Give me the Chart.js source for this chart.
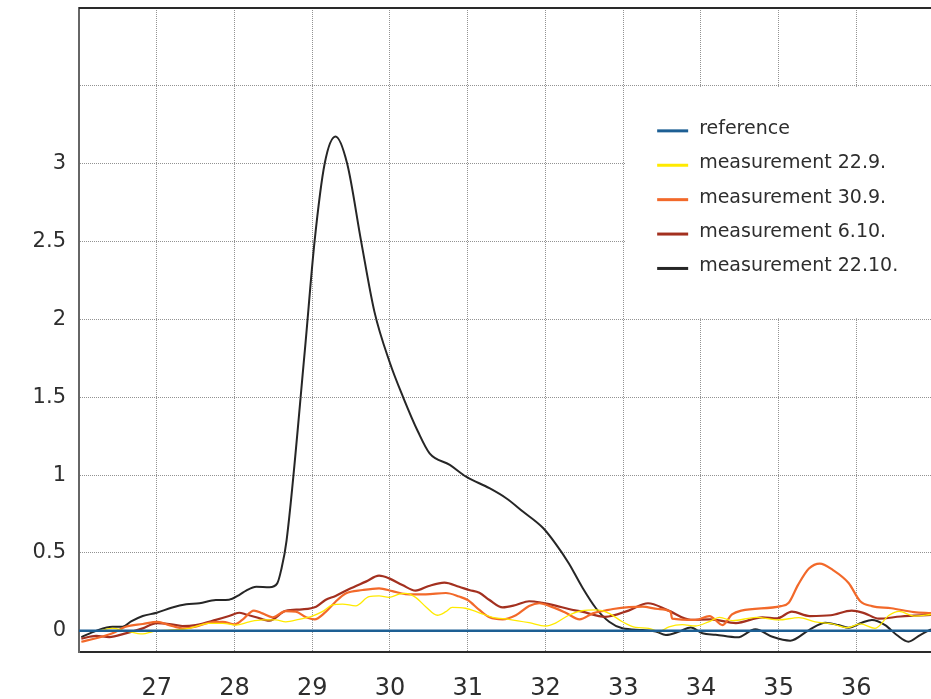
<!DOCTYPE html>
<html><head><meta charset="utf-8">
<script src="https://cdn.jsdelivr.net/npm/chart.js@4/dist/chart.umd.min.js"></script>
<style>html,body{margin:0;padding:0;background:#fff}#wrap{width:931px;height:699px;position:relative}</style>
</head><body><div id="wrap"><canvas id="c" width="931" height="699"></canvas></div>
<script>
// ---- data ----
const seriesLabels = ['reference', 'measurement 22.9.', 'measurement 30.9.', 'measurement 6.10.', 'measurement 22.10.'];
const seriesColors = ['#1d5f94', '#ffea00', '#f2692a', '#a3301f', '#262626'];

const refX = [26, 37];
const refY = [0, 0];

const m229X = [26.03,26.22,26.43,26.6,26.82,26.95,27.16,27.42,27.67,27.85,28.02,28.19,28.36,28.53,28.66,28.83,29.0,29.13,29.26,29.39,29.56,29.73,29.86,29.99,30.12,30.2,30.33,30.46,30.61,30.72,30.8,30.97,31.15,31.32,31.53,31.79,32.0,32.13,32.3,32.47,32.65,32.82,32.99,33.16,33.33,33.46,33.59,33.76,33.93,34.1,34.24,34.41,34.71,35.0,35.26,35.47,35.69,35.88,36.05,36.24,36.42,36.55,36.74,36.96];
const m229Y = [0.0,0.0,0.016,0.0,-0.02,-0.005,0.005,0.016,0.048,0.048,0.037,0.058,0.07,0.07,0.058,0.074,0.095,0.123,0.166,0.172,0.16,0.219,0.224,0.215,0.236,0.24,0.215,0.155,0.1,0.123,0.15,0.145,0.116,0.087,0.074,0.052,0.031,0.05,0.1,0.129,0.134,0.112,0.058,0.022,0.016,-0.005,0.026,0.04,0.031,0.058,0.087,0.065,0.087,0.07,0.085,0.058,0.044,0.02,0.044,0.016,0.1,0.125,0.095,0.105];

const m309X = [26.03,26.22,26.43,26.6,26.82,27.01,27.16,27.33,27.5,27.67,27.85,28.0,28.1,28.25,28.36,28.49,28.66,28.79,28.92,29.03,29.17,29.3,29.43,29.65,29.86,30.03,30.2,30.46,30.72,30.89,31.0,31.15,31.28,31.45,31.62,31.79,31.92,32.09,32.26,32.44,32.61,32.77,32.87,33.25,33.45,33.61,33.63,33.93,34.11,34.28,34.4,34.52,35.03,35.13,35.25,35.39,35.53,35.7,35.9,36.05,36.2,36.45,36.74,36.96];
const m309Y = [-0.07,-0.048,-0.016,0.026,0.044,0.058,0.037,0.016,0.026,0.052,0.058,0.042,0.07,0.13,0.112,0.087,0.127,0.123,0.087,0.074,0.12,0.187,0.24,0.262,0.273,0.255,0.236,0.234,0.243,0.22,0.198,0.134,0.087,0.074,0.1,0.159,0.177,0.152,0.116,0.074,0.112,0.13,0.14,0.155,0.14,0.123,0.078,0.07,0.095,0.037,0.105,0.13,0.159,0.18,0.295,0.4,0.432,0.39,0.307,0.19,0.159,0.145,0.12,0.114];

const m610X = [26.03,26.22,26.39,26.6,26.82,27.0,27.16,27.33,27.5,27.76,27.93,28.06,28.15,28.28,28.45,28.66,28.87,29.05,29.17,29.3,29.47,29.69,29.86,29.99,30.16,30.33,30.5,30.7,30.89,31.02,31.15,31.28,31.45,31.62,31.79,31.96,32.13,32.3,32.47,32.77,33.07,33.32,33.57,33.87,34.12,34.45,34.79,34.98,35.17,35.4,35.67,35.94,36.1,36.29,36.57,36.96];
const m610Y = [-0.05,-0.033,-0.04,-0.016,0.016,0.05,0.044,0.031,0.037,0.07,0.095,0.116,0.105,0.087,0.065,0.129,0.138,0.155,0.198,0.224,0.267,0.316,0.354,0.337,0.294,0.258,0.288,0.309,0.283,0.262,0.245,0.198,0.151,0.166,0.19,0.18,0.162,0.14,0.123,0.09,0.13,0.177,0.133,0.07,0.074,0.05,0.087,0.08,0.123,0.095,0.1,0.13,0.114,0.078,0.092,0.102];

const m2210X = [26.03,26.22,26.43,26.56,26.67,26.82,27.0,27.2,27.38,27.55,27.76,27.93,28.06,28.15,28.28,28.45,28.55,28.6,28.67,28.905,29.03,29.16,29.3,29.45,29.63,29.8,30.0,30.17,30.36,30.51,30.77,30.98,31.28,31.5,31.71,31.97,32.13,32.3,32.47,32.65,32.82,32.99,33.25,33.42,33.55,33.72,33.87,34.02,34.19,34.47,34.7,34.92,35.15,35.39,35.6,35.77,35.9,36.07,36.2,36.37,36.52,36.67,36.82,36.96];
const m2210Y = [-0.04,0.0,0.026,0.026,0.06,0.095,0.116,0.15,0.17,0.177,0.198,0.2,0.23,0.258,0.283,0.28,0.305,0.39,0.58,1.8,2.5,3.0,3.175,3.0,2.5,2.05,1.72,1.5,1.28,1.14,1.066,0.99,0.916,0.85,0.766,0.66,0.56,0.434,0.283,0.145,0.058,0.016,0.005,-0.005,-0.027,-0.005,0.022,-0.016,-0.025,-0.042,0.01,-0.038,-0.063,0.005,0.052,0.037,0.02,0.052,0.07,0.037,-0.027,-0.07,-0.027,0.01];

const xTickValues = [27, 28, 29, 30, 31, 32, 33, 34, 35, 36];
const yTickValues = [0, 0.5, 1, 1.5, 2, 2.5, 3];

// ---- build ----
const pts = (xs, ys) => xs.map((x, i) => ({x: x, y: ys[i]}));
const seriesData = [pts(refX, refY), pts(m229X, m229Y), pts(m309X, m309Y), pts(m610X, m610Y), pts(m2210X, m2210Y)];
const widths = [2.5, 1.3, 2.2, 2.2, 2];

const FONT = '"DejaVu Sans", sans-serif';

const legendBox = {
  id: 'legendBox',
  beforeDatasetsDraw(chart) {
    const {ctx, chartArea, scales} = chart;
    const left = scales.x.getPixelForValue(33) + 2;
    const top = scales.y.getPixelForValue(3.5) + 1;
    const bottom = scales.y.getPixelForValue(2) - 1;
    ctx.save();
    ctx.fillStyle = '#ffffff';
    ctx.fillRect(left, top, chartArea.right - left + 2, bottom - top);
    ctx.font = '19px ' + FONT;
    ctx.textBaseline = 'middle';
    ctx.textAlign = 'left';
    seriesLabels.forEach((lab, i) => {
      const cy = top + 42 + i * 34.4;
      ctx.strokeStyle = seriesColors[i];
      ctx.lineWidth = 3;
      ctx.beginPath();
      ctx.moveTo(left + 32, cy + 2);
      ctx.lineTo(left + 63, cy + 2);
      ctx.stroke();
      ctx.fillStyle = '#2e2e2e';
      ctx.fillText(lab, left + 74, cy);
    });
    ctx.restore();
  },
  afterDraw(chart) {
    const {ctx, chartArea} = chart;
    ctx.save();
    ctx.strokeStyle = '#2a2a2a';
    ctx.lineWidth = 2;
    ctx.beginPath();
    ctx.moveTo(chartArea.left, chartArea.top);
    ctx.lineTo(chartArea.right, chartArea.top);
    ctx.stroke();
    ctx.restore();
  }
};

new Chart(document.getElementById('c'), {
  type: 'line',
  data: {
    datasets: seriesLabels.map((lab, i) => ({
      label: lab,
      data: seriesData[i],
      borderColor: seriesColors[i],
      backgroundColor: seriesColors[i],
      borderWidth: widths[i],
      pointRadius: 0,
      fill: false,
      cubicInterpolationMode: 'monotone',
      tension: 0.4
    }))
  },
  options: {
    responsive: false,
    devicePixelRatio: 1,
    animation: false,
    layout: {padding: {top: 8, right: 0, left: 0, bottom: 0}},
    plugins: {legend: {display: false}, tooltip: {enabled: false}},
    scales: {
      x: {
        type: 'linear', min: 26, max: 36.96,
        afterFit(s) { s.height = 47; s.paddingLeft = 0; s.paddingRight = 0; },
        afterBuildTicks(s) { s.ticks = [26].concat(xTickValues).map(v => ({value: v})); },
        ticks: {
          includeBounds: false, stepSize: 1, maxRotation: 0, autoSkip: false,
          padding: 22, color: '#2e2e2e', font: {family: FONT, size: 24},
          callback: (v) => xTickValues.includes(v) ? String(v) : ''
        },
        grid: {color: '#929292', lineWidth: 1, drawTicks: false},
        border: {display: true, color: '#2a2a2a', width: 2, dash: [1, 1]}
      },
      y: {
        type: 'linear', min: -0.136, max: 4,
        afterFit(s) { s.width = 79; s.paddingTop = 0; s.paddingBottom = 0; },
        afterBuildTicks(s) { s.ticks = yTickValues.concat([3.5, 4]).map(v => ({value: v})); },
        ticks: {
          includeBounds: false, stepSize: 0.5, autoSkip: false,
          padding: 13, color: '#2e2e2e', font: {family: FONT, size: 21},
          callback: (v) => yTickValues.includes(v) ? String(v) : ''
        },
        grid: {color: '#929292', lineWidth: 1, drawTicks: false},
        border: {display: true, color: '#666666', width: 2, dash: [1, 1]}
      }
    }
  },
  plugins: [legendBox]
});
</script>
</body></html>
